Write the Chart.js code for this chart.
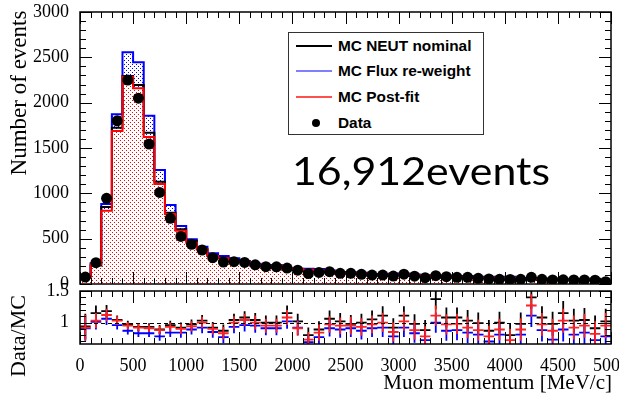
<!DOCTYPE html>
<html>
<head>
<meta charset="utf-8">
<script src="https://cdn.jsdelivr.net/npm/chart.js@4.4.1/dist/chart.umd.min.js"></script>
<style>
  html, body { margin: 0; padding: 0; background: #fff; }
  #wrap { position: relative; width: 619px; height: 397px; overflow: hidden; }
  canvas { position: absolute; left: 0; top: 0; }
  .serif { position: absolute; font-family: "Liberation Serif", "DejaVu Serif", serif; color: #000; white-space: nowrap; line-height: 1; }
  #ytitle { left: 18px; top: 93px; font-size: 23px; transform: translate(-50%, -50%) rotate(-90deg); }
  #rtitle { left: 18px; top: 336px; font-size: 22px; transform: translate(-50%, -50%) rotate(-90deg); }
  #xtitle { right: 7px; top: 372px; font-size: 21px; }
  #legend { position: absolute; left: 288px; top: 32px; width: 196px; height: 103px; box-sizing: border-box; border: 1px solid #333; background: #fff; }
  .row { position: absolute; left: 0; width: 100%; height: 0; }
  .ln { position: absolute; left: 7px; width: 36px; transform: translateY(-50%); }
  .dot { position: absolute; left: 23px; top: -4px; width: 8px; height: 8px; border-radius: 50%; background: #000; }
  .lt { position: absolute; left: 49px; top: 0; font: bold 14px "Liberation Sans", Arial, sans-serif; line-height: 1; white-space: nowrap; transform: translateY(-50%) scaleX(1.1); transform-origin: left center; }
  #bigtext { position: absolute; left: 292px; top: 151px; font-family: Lato, "Open Sans", sans-serif; font-size: 38px; line-height: 1; white-space: nowrap; transform-origin: left top; color: #000; }
</style>
</head>
<body>
<div id="wrap">
  <canvas id="mainChart" width="619" height="397"></canvas>
  <canvas id="ratioChart" width="619" height="397"></canvas>
  <div id="ytitle" class="serif">Number of events</div>
  <div id="rtitle" class="serif">Data/MC</div>
  <div id="xtitle" class="serif">Muon momentum [MeV/c]</div>
  <div id="legend">
    <div class="row" style="top:13px"><span class="ln" style="height:2px;background:#000"></span><span class="lt">MC NEUT nominal</span></div>
    <div class="row" style="top:38px"><span class="ln" style="height:1px;background:#0000ff"></span><span class="lt">MC Flux re-weight</span></div>
    <div class="row" style="top:64px"><span class="ln" style="height:2px;background:#ff5050"></span><span class="lt">MC Post-fit</span></div>
    <div class="row" style="top:90px"><span class="dot"></span><span class="lt">Data</span></div>
  </div>
  <div id="bigtext">16,912events</div>
</div>
<script>
// bins of 100 MeV/c
const binEdges = [0, 100, 200, 300, 400, 500, 600, 700, 800, 900, 1000, 1100, 1200, 1300, 1400, 1500, 1600, 1700, 1800, 1900,
  2000, 2100, 2200, 2300, 2400, 2500, 2600, 2700, 2800, 2900, 3000, 3100, 3200, 3300, 3400, 3500, 3600, 3700, 3800, 3900,
  4000, 4100, 4200, 4300, 4400, 4500, 4600, 4700, 4800, 4900, 5000];

const dataCounts = [77, 235, 945, 1800, 2250, 2050, 1544, 1010, 725, 525, 438, 375, 290, 242, 246, 238, 212, 191, 190, 176,
  152, 115, 128, 136, 118, 118, 107, 99, 99, 88, 108, 86, 70, 92, 81, 74, 74, 63, 56, 52,
  50, 52, 74, 52, 45, 46, 44, 44, 42, 25];
const mcNominal = [80, 205, 850, 1724, 2294, 2195, 1669, 1128, 786, 603, 478, 382, 312, 290, 262, 242, 205, 192, 180, 160,
  150, 144, 138, 128, 118, 116, 107, 95, 90, 94, 96, 88, 80, 68, 75, 68, 72, 64, 64, 52,
  62, 53, 53, 48, 46, 40, 43, 42, 46, 25];
const mcFluxRw = [85, 230, 882, 1872, 2555, 2445, 1857, 1257, 871, 640, 493, 411, 338, 309, 283, 255, 223, 210, 209, 173,
  165, 167, 166, 149, 133, 130, 123, 109, 108, 113, 117, 104, 97, 92, 93, 84, 88, 78, 80, 64,
  81, 64, 67, 59, 62, 52, 54, 52, 58, 32];
const mcPostFit = [82, 215, 808, 1688, 2287, 2158, 1620, 1103, 772, 588, 456, 382, 309, 283, 246, 240, 212, 201, 200, 163,
  167, 158, 152, 140, 124, 124, 115, 102, 99, 104, 106, 98, 90, 83, 84, 76, 80, 72, 72, 58,
  69, 58, 58, 54, 52, 45, 48, 46, 51, 26];

// Data/MC ratios
const ratioNominal = [0.94, 1.15, 1.18, 1.04, 0.97, 0.93, 0.93, 0.89, 0.96, 0.92, 0.97, 1.03, 0.92, 0.87, 1.04, 1.08, 1.04, 1.0, 1.0, 1.15,
  1.02, 0.80, 0.89, 1.06, 1.02, 0.98, 1.0, 1.05, 1.11, 0.92, 1.11, 0.98, 0.88, 1.37, 1.08, 1.08, 1.03, 0.99, 0.87, 1.0,
  0.80, 0.98, 1.40, 1.08, 0.98, 1.15, 1.03, 1.04, 0.91, 1.02];
const ratioFluxRw = [0.91, 1.01, 1.06, 0.96, 0.87, 0.83, 0.83, 0.78, 0.84, 0.84, 0.89, 0.92, 0.85, 0.77, 0.93, 0.96, 0.95, 0.91, 0.91, 1.02,
  0.92, 0.69, 0.77, 0.91, 0.89, 0.91, 0.87, 0.91, 0.92, 0.78, 0.92, 0.83, 0.72, 1.0, 0.87, 0.88, 0.84, 0.81, 0.70, 0.81,
  0.62, 0.81, 1.11, 0.88, 0.73, 0.89, 0.81, 0.84, 0.72, 0.78];
const ratioPostFit = [0.92, 1.03, 1.12, 1.03, 0.95, 0.92, 0.91, 0.88, 0.93, 0.90, 0.94, 1.0, 0.90, 0.83, 1.0, 1.04, 1.0, 0.95, 0.95, 1.08,
  0.91, 0.73, 0.84, 0.97, 0.95, 0.95, 0.93, 0.97, 1.0, 0.85, 1.02, 0.88, 0.78, 1.11, 0.97, 0.98, 0.92, 0.88, 0.78, 0.89,
  0.72, 0.89, 1.27, 0.97, 0.87, 1.03, 0.92, 0.95, 0.82, 0.95];
const ratioErr = [0.2, 0.12, 0.1, 0.07, 0.06, 0.06, 0.06, 0.07, 0.07, 0.08, 0.08, 0.09, 0.09, 0.1, 0.1, 0.1, 0.11, 0.11, 0.11, 0.12,
  0.12, 0.12, 0.13, 0.13, 0.13, 0.14, 0.14, 0.14, 0.15, 0.15, 0.15, 0.15, 0.16, 0.16, 0.16, 0.16, 0.17, 0.17, 0.17, 0.17,
  0.18, 0.18, 0.18, 0.18, 0.19, 0.19, 0.19, 0.19, 0.2, 0.2];

const yTicksMain = [0, 500, 1000, 1500, 2000, 2500, 3000];
const yTicksRatio = [1, 1.5];
const xTicks = [0, 500, 1000, 1500, 2000, 2500, 3000, 3500, 4000, 4500, 5000];

// histogram outline: left/right corner of every bin
function stepPoints(vals) {
  const pts = [];
  vals.forEach((v, i) => {
    pts.push({ x: binEdges[i], y: v });
    pts.push({ x: binEdges[i + 1], y: v });
  });
  return pts;
}
// crosses: horizontal bin bar + vertical error bar, separated by gaps
function crossPoints(vals) {
  const pts = [];
  vals.forEach((r, i) => {
    const c = (binEdges[i] + binEdges[i + 1]) / 2;
    pts.push({ x: binEdges[i], y: r }, { x: binEdges[i + 1], y: r }, { x: c, y: null });
    pts.push({ x: c, y: r - ratioErr[i] }, { x: c, y: r + ratioErr[i] }, { x: c, y: null });
  });
  return pts;
}
function makePattern(color, cells, size) {
  const c = document.createElement('canvas');
  c.width = c.height = size;
  const g = c.getContext('2d');
  g.fillStyle = '#fff';
  g.fillRect(0, 0, size, size);
  g.fillStyle = color;
  cells.forEach(([x, y]) => g.fillRect(x, y, 1, 1));
  return g.createPattern(c, 'repeat');
}

// ROOT style frame with inward ticks on all four sides
const rootFrame = {
  id: 'rootFrame',
  afterDraw(chart, args, o) {
    const { ctx, chartArea: a, scales: { x, y } } = chart;
    ctx.save();
    ctx.strokeStyle = '#000';
    ctx.lineWidth = 1;
    ctx.beginPath();
    const nx = Math.round((x.max - x.min) / o.xMinor);
    for (let k = 0; k <= nx; k++) {
      const v = x.min + k * o.xMinor;
      const px = Math.round(x.getPixelForValue(v)) + 0.5;
      const len = (Math.round(v) % o.xMajor === 0) ? o.xMajorLen : o.xMinorLen;
      ctx.moveTo(px, a.bottom); ctx.lineTo(px, a.bottom - len);
      ctx.moveTo(px, a.top); ctx.lineTo(px, a.top + len);
    }
    const k0 = Math.ceil(y.min / o.yMinor - 1e-6), k1 = Math.floor(y.max / o.yMinor + 1e-6);
    for (let k = k0; k <= k1; k++) {
      const v = k * o.yMinor;
      const py = Math.round(y.getPixelForValue(v)) + 0.5;
      const r = v / o.yMajor;
      const len = Math.abs(r - Math.round(r)) < 1e-6 ? o.yMajorLen : o.yMinorLen;
      ctx.moveTo(a.left, py); ctx.lineTo(a.left + len, py);
      ctx.moveTo(a.right, py); ctx.lineTo(a.right - len, py);
    }
    ctx.stroke();
    if (o.unity !== undefined) {
      const py = Math.round(y.getPixelForValue(o.unity)) + 0.5;
      ctx.setLineDash([4, 3]);
      ctx.lineWidth = 1.2;
      ctx.beginPath(); ctx.moveTo(a.left, py); ctx.lineTo(a.right, py); ctx.stroke();
      ctx.setLineDash([]);
    }
    ctx.lineWidth = 1.5;
    ctx.strokeRect(a.left, a.top, a.right - a.left, a.bottom - a.top);
    ctx.restore();
  }
};

Chart.defaults.font.family = '"Liberation Serif", serif';
Chart.defaults.color = '#000';

const tickFont = { family: '"Liberation Serif", serif', size: 18 };
const plainLabel = v => String(v);
const redPattern = makePattern('#ff0000', [[0, 0], [2, 2]], 4);
const bluePattern = makePattern('#0000ff', [[0, 0], [2, 2]], 4);

const lineDs = (label, pts, color, width, order) => ({
  label, data: pts, borderColor: color, borderWidth: width, pointRadius: 0,
  fill: false, tension: 0, order, borderJoinStyle: 'miter'
});

new Chart(document.getElementById('mainChart'), {
  type: 'line',
  data: {
    datasets: [
      { label: 'flux fill', data: stepPoints(mcFluxRw), fill: 'origin', backgroundColor: bluePattern,
        borderColor: 'rgba(0,0,0,0)', borderWidth: 1, pointRadius: 0, order: 6 },
      { label: 'post-fit fill', data: stepPoints(mcPostFit), fill: 'origin', backgroundColor: redPattern,
        borderColor: 'rgba(0,0,0,0)', borderWidth: 1, pointRadius: 0, order: 5 },
      lineDs('MC Flux re-weight', stepPoints(mcFluxRw), '#0000ff', 2, 4),
      lineDs('MC NEUT nominal', stepPoints(mcNominal), '#000000', 2, 3),
      lineDs('MC Post-fit', stepPoints(mcPostFit), '#ff0000', 2, 2),
      { label: 'Data', showLine: false, order: 0, pointRadius: 5.5, pointBackgroundColor: '#000', pointBorderWidth: 0,
        data: dataCounts.map((v, i) => ({ x: (binEdges[i] + binEdges[i + 1]) / 2, y: v })) }
    ]
  },
  options: {
    responsive: false, animation: false,
    layout: { padding: { top: 12, right: 8, left: 0, bottom: 0 } },
    plugins: {
      legend: { display: false }, tooltip: { enabled: false },
      rootFrame: { xMinor: 100, xMajor: 500, xMinorLen: 6, xMajorLen: 12, yMinor: 100, yMajor: 500, yMinorLen: 6, yMajorLen: 12 }
    },
    scales: {
      x: {
        type: 'linear', min: 0, max: 5000,
        grid: { display: false }, border: { display: false }, ticks: { display: false },
        afterFit: s => { s.height = 397 - 284; s.paddingLeft = 0; s.paddingRight = 0; }
      },
      y: {
        min: 0, max: 3000,
        grid: { display: false }, border: { display: false },
        ticks: { font: tickFont, padding: 3, callback: plainLabel },
        afterBuildTicks: s => { s.ticks = yTicksMain.map(v => ({ value: v })); },
        afterFit: s => { s.width = 80; s.paddingTop = 0; s.paddingBottom = 0; }
      }
    }
  },
  plugins: [rootFrame]
});

new Chart(document.getElementById('ratioChart'), {
  type: 'line',
  data: {
    datasets: [
      lineDs('Data/NEUT nominal', crossPoints(ratioNominal), '#000000', 1.8, 3),
      lineDs('Data/Flux re-weight', crossPoints(ratioFluxRw), '#0000ff', 1.8, 2),
      lineDs('Data/Post-fit', crossPoints(ratioPostFit), '#ff2020', 1.8, 1)
    ]
  },
  options: {
    responsive: false, animation: false, spanGaps: false,
    layout: { padding: { top: 291, right: 8, left: 0, bottom: 0 } },
    plugins: {
      legend: { display: false }, tooltip: { enabled: false },
      rootFrame: { xMinor: 100, xMajor: 500, xMinorLen: 6, xMajorLen: 12, yMinor: 0.1, yMajor: 0.5, yMinorLen: 6, yMajorLen: 12, unity: 1 }
    },
    scales: {
      x: {
        type: 'linear', min: 0, max: 5000,
        grid: { display: false }, border: { display: false },
        ticks: { font: tickFont, padding: 3, autoSkip: false, maxRotation: 0, callback: plainLabel },
        afterBuildTicks: s => { s.ticks = xTicks.map(v => ({ value: v })); },
        afterFit: s => { s.height = 397 - 344; s.paddingLeft = 0; s.paddingRight = 0; }
      },
      y: {
        min: 0.66, max: 1.5,
        grid: { display: false }, border: { display: false },
        ticks: { font: tickFont, padding: 3, callback: plainLabel },
        afterBuildTicks: s => { s.ticks = yTicksRatio.map(v => ({ value: v })); },
        afterFit: s => { s.width = 80; s.paddingTop = 0; s.paddingBottom = 0; }
      }
    }
  },
  plugins: [rootFrame]
});

// stretch the big label to the width it has in the slide
const big = document.getElementById('bigtext');
big.style.transform = 'scaleX(' + (258 / big.getBoundingClientRect().width) + ')';
</script>
</body>
</html>
